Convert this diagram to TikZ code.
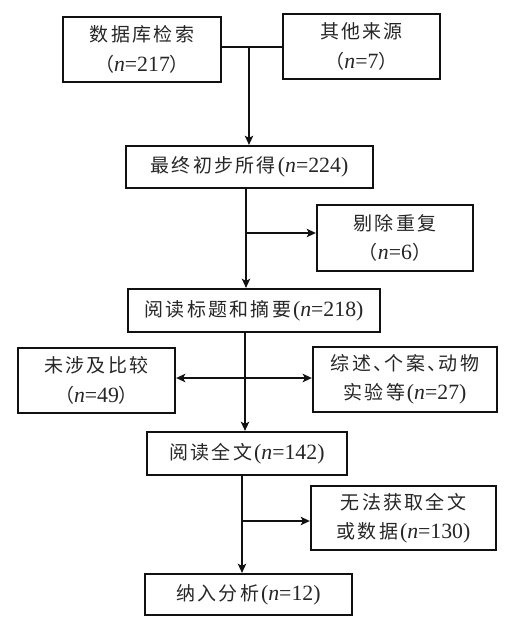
\documentclass[tikz,border=0pt]{standalone}
\usepackage{fontspec}
\setmainfont{Liberation Serif}
\newfontfamily\cjk[LetterSpace=12]{Noto Sans CJK SC}
\usetikzlibrary{arrows.meta}
\definecolor{flowInk}{HTML}{111111}
\definecolor{flowText}{HTML}{262626}
\newcommand{\zh}[1]{{\cjk #1}}
\newcommand{\lat}[1]{{\fontsize{15.5}{21}\selectfont #1}}
\newcommand{\nval}[1]{\kern.1em\lat{(\textit{n}=#1)}}
\newcommand{\nvalw}[1]{\zh{（}\lat{\textit{n}=#1}\zh{）}}

\begin{document}
\begin{tikzpicture}[x=0.025cm,y=-0.025cm,
  box/.style={draw=flowInk,line width=1.6pt,fill=white,align=center,
              inner sep=2pt,text=flowText,
              font=\fontsize{13.5}{21}\selectfont},
  ln/.style={flowInk,line width=1.1pt},
  arr/.style={-{Stealth[length=6.5pt,width=6pt,inset=1.5pt]},flowInk,line width=1.1pt},
  darr/.style={{Stealth[length=6.5pt,width=6pt,inset=1.5pt]}-{Stealth[length=6.5pt,width=6pt,inset=1.5pt]},
               flowInk,line width=1.1pt}]
\useasboundingbox (0,0) rectangle (514,627);

%% sources
\node[box,minimum width=3.95cm,minimum height=1.625cm] (db) at (142,49.5)
  {\zh{数据库检索}\\\nvalw{217}};
\node[box,minimum width=3.925cm,minimum height=1.625cm] (other) at (361.5,46.5)
  {\zh{其他来源}\\\nvalw{7}};

%% main column
\node[box,minimum width=6.175cm,minimum height=1.05cm] (init) at (249.5,167)
  {\zh{最终初步所得}\nval{224}};
\node[box,minimum width=6.3cm,minimum height=1.075cm] (screen) at (254,310.5)
  {\zh{阅读标题和摘要}\nval{218}};
\node[box,minimum width=5cm,minimum height=1.075cm] (full) at (247,453.5)
  {\zh{阅读全文}\nval{142}};
\node[box,minimum width=5.175cm,minimum height=1.025cm] (incl) at (248.5,594.5)
  {\zh{纳入分析}\nval{12}};

%% excluded
\node[box,minimum width=3.9cm,minimum height=1.65cm] (dup) at (395,238)
  {\zh{剔除重复}\\\nvalw{6}};
\node[box,minimum width=3.925cm,minimum height=1.625cm] (nocmp) at (96.5,380.5)
  {\zh{未涉及比较}\\\nvalw{49}};
\node[box,minimum width=4.6cm,minimum height=1.625cm] (review) at (405,379.5)
  {\zh{综述、\kern-.4em 个案、\kern-.4em 动物}\\\zh{实验等}\nval{27}};
\node[box,minimum width=4.625cm,minimum height=1.6cm] (nofull) at (403.5,518)
  {\zh{无法获取全文}\\\zh{或数据}\nval{130}};

%% connectors
\coordinate (c1) at (249,47);
\coordinate (c2) at (246,233);
\coordinate (c3) at (245,378);
\coordinate (c4) at (242,521);

\draw[ln] (db.east |- c1) -- (other.west |- c1);
\draw[arr] (c1) -- (c1 |- init.north);
\draw[arr] (c2 |- init.south) -- (c2 |- screen.north);
\draw[arr] (c2) -- (c2 -| dup.west);
\draw[arr] (c3 |- screen.south) -- (c3 |- full.north);
\draw[darr] (c3 -| nocmp.east) -- (c3 -| review.west);
\draw[arr] (c4 |- full.south) -- (c4 |- incl.north);
\draw[arr] (c4) -- (c4 -| nofull.west);
\end{tikzpicture}
\end{document}
